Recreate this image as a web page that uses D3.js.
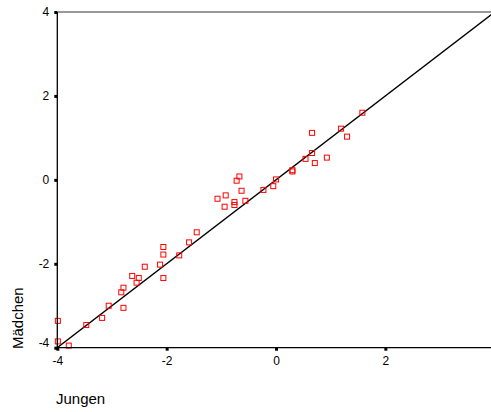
<!DOCTYPE html>
<html lang="de">
<head>
  <meta charset="UTF-8">
  <title>Jungen vs. Mädchen</title>
  <script src="https://cdn.jsdelivr.net/npm/d3@7"></script>
  <style>
    body {
      margin: 0;
      background: #fff;
      font-family: "Liberation Sans", Arial, sans-serif;
    }
    svg {
      display: block;
    }
  </style>
</head>
<body>
  <svg width="491" height="412"></svg>
  <script>
    // values
    const jungen = [
      -3.99, -3.99, -3.79, -3.47, -3.18, -3.06, -2.79, -2.83, -2.79, -2.63,
      -2.55, -2.51, -2.40, -2.12, -2.06, -2.06, -2.06, -1.77, -1.59, -1.45,
      -1.07, -0.92, -0.94, -0.76, -0.76, -0.72, -0.67, -0.63, -0.56, -0.23,
      -0.05, 0.00, 0.30, 0.30, 0.54, 0.66, 0.71, 0.66, 0.93, 1.19,
      1.30, 1.58
    ];
    const maedchen = [
      -3.36, -3.85, -3.95, -3.46, -3.29, -3.00, -3.05, -2.68, -2.57, -2.29,
      -2.45, -2.34, -2.07, -2.02, -1.60, -1.78, -2.34, -1.80, -1.49, -1.25,
      -0.45, -0.37, -0.64, -0.53, -0.60, -0.02, 0.08, -0.26, -0.50, -0.24,
      -0.15, 0.01, 0.23, 0.20, 0.50, 0.64, 0.40, 1.12, 0.53, 1.22,
      1.03, 1.60
    ];
    const xTicks = [-4, -2, 0, 2];
    const yTicks = [-4, -2, 0, 2, 4];
    const diagonal = [-4, 4];

    const points = jungen.map((d, i) => ({ x: d, y: maedchen[i] }));

    const svg = d3.select('svg');
    const plotLeft = 57.3, plotTop = 12, plotBottom = 347.7, plotRight = 491;

    const x = d3.scaleLinear().domain([-4, 4]).range([plotLeft, 494.7]);
    const y = d3.scaleLinear().domain([-4, 4]).range([plotBottom, plotTop]);

    svg.append('clipPath')
      .attr('id', 'plot')
      .append('rect')
      .attr('x', plotLeft)
      .attr('y', plotTop)
      .attr('width', plotRight - plotLeft)
      .attr('height', plotBottom - plotTop);

    // top frame
    svg.append('line')
      .attr('x1', plotLeft).attr('x2', plotRight)
      .attr('y1', plotTop).attr('y2', plotTop)
      .attr('stroke', '#777')
      .attr('stroke-width', 1.3);

    // diagonal reference line
    svg.append('line')
      .attr('clip-path', 'url(#plot)')
      .attr('x1', x(diagonal[0])).attr('y1', y(diagonal[0]))
      .attr('x2', x(diagonal[1])).attr('y2', y(diagonal[1]))
      .attr('stroke', '#000')
      .attr('stroke-width', 1.3);

    // markers
    const s = 5;
    svg.append('g')
      .selectAll('rect')
      .data(points)
      .join('rect')
      .attr('x', d => x(d.x) - s / 2)
      .attr('y', d => y(d.y) - s / 2)
      .attr('width', s)
      .attr('height', s)
      .attr('fill', 'none')
      .attr('stroke', '#ff0000')
      .attr('stroke-width', 1);

    // axes
    const xAxis = svg.append('g')
      .attr('transform', `translate(0,${plotBottom})`)
      .call(d3.axisBottom(x).tickValues(xTicks).tickSize(3).tickPadding(6).tickSizeOuter(0));
    const yAxis = svg.append('g')
      .attr('transform', `translate(${plotLeft},0)`)
      .call(d3.axisLeft(y).tickValues(yTicks).tickSize(3).tickPadding(5).tickSizeOuter(0));

    [xAxis, yAxis].forEach(g => {
      g.select('.domain').remove();
      g.selectAll('.tick line').attr('stroke', '#000').attr('stroke-width', 3);
      g.selectAll('.tick text')
        .attr('fill', '#000')
        .style('font-family', '"Liberation Sans", Arial, sans-serif')
        .style('font-size', '12px')
        .text(d => d < 0 ? '-' + Math.abs(d) : d);
    });
    // lowest y label sits a bit higher, clear of the x labels
    yAxis.selectAll('.tick text').filter(d => d === -4).attr('dy', '-0.1em');

    svg.append('line')
      .attr('x1', plotLeft).attr('x2', plotLeft)
      .attr('y1', plotTop).attr('y2', plotBottom)
      .attr('stroke', '#000').attr('stroke-width', 1.3);
    svg.append('line')
      .attr('x1', plotLeft).attr('x2', plotRight)
      .attr('y1', plotBottom).attr('y2', plotBottom)
      .attr('stroke', '#000').attr('stroke-width', 1.3);

    // axis titles
    svg.append('text')
      .attr('x', 56)
      .attr('y', 404)
      .style('font-size', '15px')
      .text('Jungen');
    svg.append('text')
      .attr('transform', 'translate(23,349) rotate(-90)')
      .style('font-size', '15px')
      .text('Mädchen');
  </script>
</body>
</html>
